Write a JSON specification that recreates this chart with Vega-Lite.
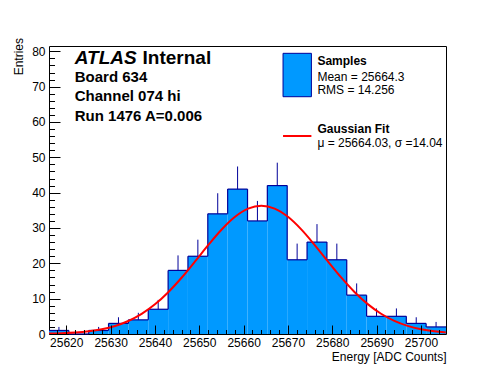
{
  "$schema": "https://vega.github.io/schema/vega-lite/v6.json",
  "width": 397,
  "height": 288,
  "autosize": {"type": "none"},
  "padding": {"left": 49, "top": 46, "right": 50, "bottom": 38},
  "background": "white",
  "config": {
    "font": "Liberation Sans",
    "view": {"stroke": "black", "strokeWidth": 1},
    "axis": {"grid": false, "domain": false, "labelColor": "black", "tickColor": "black", "titleColor": "black", "labelFont": "Liberation Sans", "titleFont": "Liberation Sans"}
  },
  "datasets": {
    "bins": [
      {"lo": 25616.10, "hi": 25620.58, "n": 1},
      {"lo": 25620.58, "hi": 25625.06, "n": 0},
      {"lo": 25625.06, "hi": 25629.53, "n": 1},
      {"lo": 25629.53, "hi": 25634.01, "n": 3},
      {"lo": 25634.01, "hi": 25638.49, "n": 4},
      {"lo": 25638.49, "hi": 25642.97, "n": 7},
      {"lo": 25642.97, "hi": 25647.44, "n": 18},
      {"lo": 25647.44, "hi": 25651.92, "n": 22},
      {"lo": 25651.92, "hi": 25656.40, "n": 34},
      {"lo": 25656.40, "hi": 25660.88, "n": 41},
      {"lo": 25660.88, "hi": 25665.35, "n": 32},
      {"lo": 25665.35, "hi": 25669.83, "n": 42},
      {"lo": 25669.83, "hi": 25674.31, "n": 21},
      {"lo": 25674.31, "hi": 25678.79, "n": 26},
      {"lo": 25678.79, "hi": 25683.26, "n": 21},
      {"lo": 25683.26, "hi": 25687.74, "n": 11},
      {"lo": 25687.74, "hi": 25692.22, "n": 5},
      {"lo": 25692.22, "hi": 25696.70, "n": 5},
      {"lo": 25696.70, "hi": 25701.17, "n": 3},
      {"lo": 25701.17, "hi": 25705.65, "n": 2}
    ],
    "fit": [
      {"x": 25616.1, "y": 0.107}, {"x": 25619, "y": 0.212}, {"x": 25622, "y": 0.411},
      {"x": 25625, "y": 0.762}, {"x": 25628, "y": 1.349}, {"x": 25631, "y": 2.281},
      {"x": 25634, "y": 3.685}, {"x": 25637, "y": 5.690}, {"x": 25640, "y": 8.391},
      {"x": 25643, "y": 11.824}, {"x": 25646, "y": 15.914}, {"x": 25649, "y": 20.467},
      {"x": 25652, "y": 25.148}, {"x": 25655, "y": 29.518}, {"x": 25658, "y": 33.102},
      {"x": 25661, "y": 35.464}, {"x": 25664, "y": 36.300}, {"x": 25667, "y": 35.497},
      {"x": 25670, "y": 33.163}, {"x": 25673, "y": 29.599}, {"x": 25676, "y": 25.239},
      {"x": 25679, "y": 20.561}, {"x": 25682, "y": 16.002}, {"x": 25685, "y": 11.898},
      {"x": 25688, "y": 8.452}, {"x": 25691, "y": 5.736}, {"x": 25694, "y": 3.719},
      {"x": 25697, "y": 2.304}, {"x": 25700, "y": 1.363}, {"x": 25703, "y": 0.770},
      {"x": 25705.6, "y": 0.453}
    ]
  },
  "resolve": {"axis": {"x": "independent", "y": "independent"}},
  "layer": [
    {
      "data": {"name": "bins"},
      "mark": {"type": "rect", "fill": "#0099ff", "strokeWidth": 0},
      "encoding": {
        "x": {"field": "lo", "type": "quantitative", "scale": {"domain": [25616.1, 25705.65], "nice": false, "zero": false},
          "axis": {"orient": "bottom", "values": [25620, 25630, 25640, 25650, 25660, 25670, 25680, 25690, 25700], "format": "d", "ticks": false, "labelFontSize": 12, "labelPadding": 3, "labelBaseline": "top",
            "title": "Energy [ADC Counts]", "titleFontSize": 12, "titleFontWeight": "normal", "titleX": 397, "titleY": 26.5, "titleAlign": "right", "titleBaseline": "alphabetic", "titleAnchor": null, "zindex": 1}},
        "x2": {"field": "hi"},
        "y": {"field": "n", "type": "quantitative", "scale": {"domain": [0, 81.5], "nice": false},
          "axis": {"orient": "left", "values": [0, 10, 20, 30, 40, 50, 60, 70, 80], "ticks": false, "labelFontSize": 12, "labelPadding": 4,
            "title": "Entries", "titleFontSize": 12, "titleFontWeight": "normal", "titleAngle": 270, "titleX": -26.5, "titleY": -8.5, "titleAlign": "right", "titleBaseline": "alphabetic", "titleAnchor": null, "zindex": 1}},
        "y2": {"datum": 0}
      }
    },
    {
      "data": {"name": "bins"},
      "transform": [
        {"filter": "datum.n > 0"},
        {"calculate": "(datum.lo + datum.hi) / 2", "as": "c"},
        {"calculate": "datum.n + sqrt(datum.n)", "as": "up"}
      ],
      "mark": {"type": "rule", "stroke": "#000099", "strokeWidth": 1},
      "encoding": {
        "x": {"field": "c", "type": "quantitative", "axis": null},
        "y": {"field": "n", "type": "quantitative", "axis": null},
        "y2": {"field": "up"}
      }
    },
    {
      "data": {"name": "bins"},
      "mark": {"type": "rule", "stroke": "#000099", "strokeWidth": 1.2},
      "encoding": {
        "x": {"field": "lo", "type": "quantitative",
          "axis": {"orient": "bottom", "values": [25620, 25630, 25640, 25650, 25660, 25670, 25680, 25690, 25700], "labels": false, "tickSize": -9, "tickWidth": 1, "title": null, "zindex": 2}},
        "x2": {"field": "hi"},
        "y": {"field": "n", "type": "quantitative",
          "axis": {"orient": "left", "values": [0, 10, 20, 30, 40, 50, 60, 70, 80], "labels": false, "tickSize": -11, "tickWidth": 1, "title": null, "zindex": 2}}
      }
    },
    {
      "data": {"name": "bins"},
      "transform": [
        {"window": [{"op": "lead", "field": "n", "as": "nn"}], "sort": [{"field": "lo"}]},
        {"filter": "datum.nn != null"}
      ],
      "mark": {"type": "rule", "stroke": "#000099", "strokeWidth": 1.2},
      "encoding": {
        "x": {"field": "hi", "type": "quantitative",
          "axis": {"orient": "bottom", "values": [25618, 25622, 25624, 25626, 25628, 25632, 25634, 25636, 25638, 25642, 25644, 25646, 25648, 25652, 25654, 25656, 25658, 25662, 25664, 25666, 25668, 25672, 25674, 25676, 25678, 25682, 25684, 25686, 25688, 25692, 25694, 25696, 25698, 25702, 25704], "labels": false, "tickSize": -4.5, "tickWidth": 1, "title": null, "zindex": 2}},
        "y": {"field": "n", "type": "quantitative",
          "axis": {"orient": "left", "values": [2, 4, 6, 8, 12, 14, 16, 18, 22, 24, 26, 28, 32, 34, 36, 38, 42, 44, 46, 48, 52, 54, 56, 58, 62, 64, 66, 68, 72, 74, 76, 78], "labels": false, "tickSize": -5.5, "tickWidth": 1, "title": null, "zindex": 2}},
        "y2": {"field": "nn"}
      }
    },
    {
      "data": {"name": "fit"},
      "mark": {"type": "line", "stroke": "#ff0000", "strokeWidth": 2, "interpolate": "monotone", "clip": true},
      "encoding": {
        "x": {"field": "x", "type": "quantitative", "axis": null},
        "y": {"field": "y", "type": "quantitative", "axis": null}
      }
    },
    {
      "data": {"values": [{}]},
      "mark": {"type": "rect", "fill": "#0099ff", "stroke": "#000099", "strokeWidth": 1},
      "encoding": {
        "x": {"datum": 25668.89, "type": "quantitative", "axis": null},
        "x2": {"datum": 25675.29},
        "y": {"datum": 79.43, "type": "quantitative", "axis": null},
        "y2": {"datum": 67.15}
      }
    },
    {
      "data": {"values": [{}]},
      "mark": {"type": "rule", "stroke": "#ff0000", "strokeWidth": 2},
      "encoding": {
        "x": {"datum": 25668.89, "type": "quantitative", "axis": null},
        "x2": {"datum": 25675.29},
        "y": {"datum": 56.03, "type": "quantitative", "axis": null}
      }
    },
    {
      "data": {"values": [{}]},
      "mark": {"type": "text", "text": "ATLAS", "font": "Liberation Sans", "fontSize": 19, "fontStyle": "italic", "fontWeight": "bold", "align": "left", "baseline": "alphabetic", "color": "black"},
      "encoding": {
        "x": {"datum": 25621.9, "type": "quantitative", "axis": null},
        "y": {"datum": 76.4, "type": "quantitative", "axis": null}
      }
    },
    {
      "data": {"values": [{}]},
      "mark": {"type": "text", "text": "Internal", "font": "Liberation Sans", "fontSize": 19, "fontWeight": "bold", "align": "left", "baseline": "alphabetic", "color": "black"},
      "encoding": {
        "x": {"datum": 25637.2, "type": "quantitative", "axis": null},
        "y": {"datum": 76.4, "type": "quantitative", "axis": null}
      }
    },
    {
      "data": {"values": [{}]},
      "mark": {"type": "text", "text": ["Board 634", "Channel 074 hi", "Run 1476 A=0.006"], "lineHeight": 19.3, "font": "Liberation Sans", "fontSize": 15, "fontWeight": "bold", "align": "left", "baseline": "alphabetic", "color": "black"},
      "encoding": {
        "x": {"datum": 25621.9, "type": "quantitative", "axis": null},
        "y": {"datum": 71.31, "type": "quantitative", "axis": null}
      }
    },
    {
      "data": {"values": [{}]},
      "mark": {"type": "text", "text": "Samples", "font": "Liberation Sans", "fontSize": 12, "fontWeight": "bold", "align": "left", "baseline": "alphabetic", "color": "black"},
      "encoding": {
        "x": {"datum": 25676.65, "type": "quantitative", "axis": null},
        "y": {"datum": 76.12, "type": "quantitative", "axis": null}
      }
    },
    {
      "data": {"values": [{}]},
      "mark": {"type": "text", "text": ["Mean = 25664.3", "RMS = 14.256"], "lineHeight": 13.5, "font": "Liberation Sans", "fontSize": 12, "align": "left", "baseline": "alphabetic", "color": "black"},
      "encoding": {
        "x": {"datum": 25676.65, "type": "quantitative", "axis": null},
        "y": {"datum": 71.73, "type": "quantitative", "axis": null}
      }
    },
    {
      "data": {"values": [{}]},
      "mark": {"type": "text", "text": "Gaussian Fit", "font": "Liberation Sans", "fontSize": 12, "fontWeight": "bold", "align": "left", "baseline": "alphabetic", "color": "black"},
      "encoding": {
        "x": {"datum": 25676.65, "type": "quantitative", "axis": null},
        "y": {"datum": 57.0, "type": "quantitative", "axis": null}
      }
    },
    {
      "data": {"values": [{}]},
      "mark": {"type": "text", "text": "μ = 25664.03, σ =14.04", "font": "Liberation Sans", "fontSize": 12, "align": "left", "baseline": "alphabetic", "color": "black"},
      "encoding": {
        "x": {"datum": 25676.65, "type": "quantitative", "axis": null},
        "y": {"datum": 52.9, "type": "quantitative", "axis": null}
      }
    }
  ]
}
